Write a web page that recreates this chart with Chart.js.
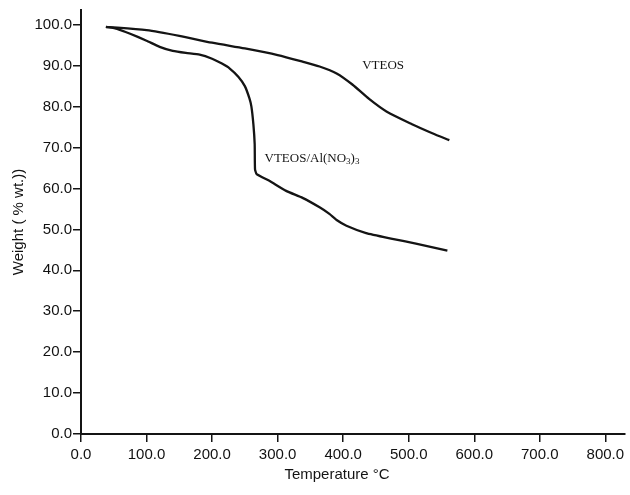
<!DOCTYPE html>
<html>
<head>
<meta charset="utf-8">
<script src="https://cdn.jsdelivr.net/npm/chart.js"></script>
<style>
html,body{margin:0;padding:0;background:#fff}
#wrap{width:630px;height:495px;position:relative}
</style>
</head>
<body>
<div id="wrap"><canvas id="tga"></canvas></div>

<script>
/* =========================
   DATA
========================= */
const tempVteos   = [38, 100, 150, 200, 250, 300, 338, 364, 390, 414, 440, 466, 505, 536, 562];
const weightVteos = [99.5, 98.7, 97.3, 95.6, 94.2, 92.6, 91.0, 89.8, 88.1, 85.4, 81.8, 78.8, 75.7, 73.5, 71.8];

const tempAl   = [38, 55, 75, 100, 120, 140, 160, 181, 200, 215, 227, 240, 250, 257, 260, 263, 265, 265.5, 268, 288, 313, 338, 364, 379, 390, 405, 435, 475, 511, 559];
const weightAl = [99.5, 99.0, 97.8, 96.1, 94.6, 93.6, 93.1, 92.7, 91.7, 90.5, 89.3, 87.3, 85.0, 82.0, 80.0, 75.7, 70.8, 64.7, 63.5, 61.8, 59.4, 57.7, 55.4, 53.8, 52.3, 50.9, 49.1, 47.7, 46.5, 44.8];

const xTicks = [0, 100, 200, 300, 400, 500, 600, 700, 800];
const yTicks = [0, 10, 20, 30, 40, 50, 60, 70, 80, 90, 100];

// curve labels: [text, temperature, weight] (left/middle anchor)
const curveLabels = [
  ["VTEOS", 429, 90.0],
  ["VTEOS/Al(NO|3|)|3", 280, 67.4]
];

/* =========================
   HELPERS
========================= */
function toPoints(xs, ys) {
  return xs.map((x, i) => ({ x: x, y: ys[i] }));
}

const INK = "#141414";

// draws the curve labels and the x axis title
const textPlugin = {
  id: "textPlugin",
  afterDraw(chart) {
    const ctx = chart.ctx;
    const xs = chart.scales.x, ys = chart.scales.y;
    ctx.save();
    ctx.fillStyle = INK;
    ctx.textBaseline = "middle";
    ctx.textAlign = "left";
    curveLabels.forEach(([txt, t, w]) => {
      let px = xs.getPixelForValue(t);
      const py = ys.getPixelForValue(w);
      // parts split by "|": odd parts are subscripts
      txt.split("|").forEach((part, i) => {
        const sub = i % 2 === 1;
        ctx.font = (sub ? "9px" : "13px") + " 'Liberation Serif', serif";
        ctx.fillText(part, px, py + (sub ? 3 : 0));
        px += ctx.measureText(part).width;
      });
    });

    ctx.font = "15px 'Liberation Sans', Arial, sans-serif";
    ctx.textAlign = "center";
    ctx.fillText("Temperature \u00B0C", 337, 475);
    ctx.restore();
  }
};

/* =========================
   CHART
========================= */
new Chart(document.getElementById("tga"), {
  type: "scatter",
  data: {
    datasets: [
      {
        label: "VTEOS",
        data: toPoints(tempVteos, weightVteos),
        showLine: true,
        borderColor: INK,
        borderWidth: 2.3,
        pointRadius: 0,
        tension: 0.25
      },
      {
        label: "VTEOS/Al(NO3)3",
        data: toPoints(tempAl, weightAl),
        showLine: true,
        borderColor: INK,
        borderWidth: 2.3,
        pointRadius: 0,
        tension: 0.15
      }
    ]
  },
  options: {
    responsive: true,
    maintainAspectRatio: false,
    animation: false,
    layout: { padding: { left: 0, right: 5, top: 8, bottom: 0 } },
    plugins: {
      legend: { display: false },
      tooltip: { enabled: false }
    },
    scales: {
      x: {
        type: "linear",
        min: 0,
        max: 830,
        afterBuildTicks: s => { s.ticks = xTicks.map(v => ({ value: v })); },
        afterFit: s => { s.height = 61; },
        border: { display: true, color: INK, width: 2 },
        grid: { display: true, drawOnChartArea: false, drawTicks: true, tickLength: 8, color: INK, lineWidth: 1.5 },
        ticks: {
          color: "#111",
          padding: 4,
          maxRotation: 0,
          font: { family: "'Liberation Sans', Arial, sans-serif", size: 15 },
          callback: v => v.toFixed(1)
        }
      },
      y: {
        type: "linear",
        min: 0,
        max: 103.6,
        afterBuildTicks: s => { s.ticks = yTicks.map(v => ({ value: v })); },
        afterFit: s => { s.width = 81; },
        border: { display: true, color: INK, width: 2 },
        grid: { display: true, drawOnChartArea: false, drawTicks: true, tickLength: 8, color: INK, lineWidth: 1.5 },
        title: {
          display: true,
          text: "Weight ( % wt.))",
          color: "#111",
          padding: { top: 10, bottom: 0 },
          font: { family: "'Liberation Sans', Arial, sans-serif", size: 15 }
        },
        ticks: {
          color: "#111",
          padding: 1,
          font: { family: "'Liberation Sans', Arial, sans-serif", size: 15 },
          callback: v => v.toFixed(1)
        }
      }
    }
  },
  plugins: [textPlugin]
});
</script>
</body>
</html>
